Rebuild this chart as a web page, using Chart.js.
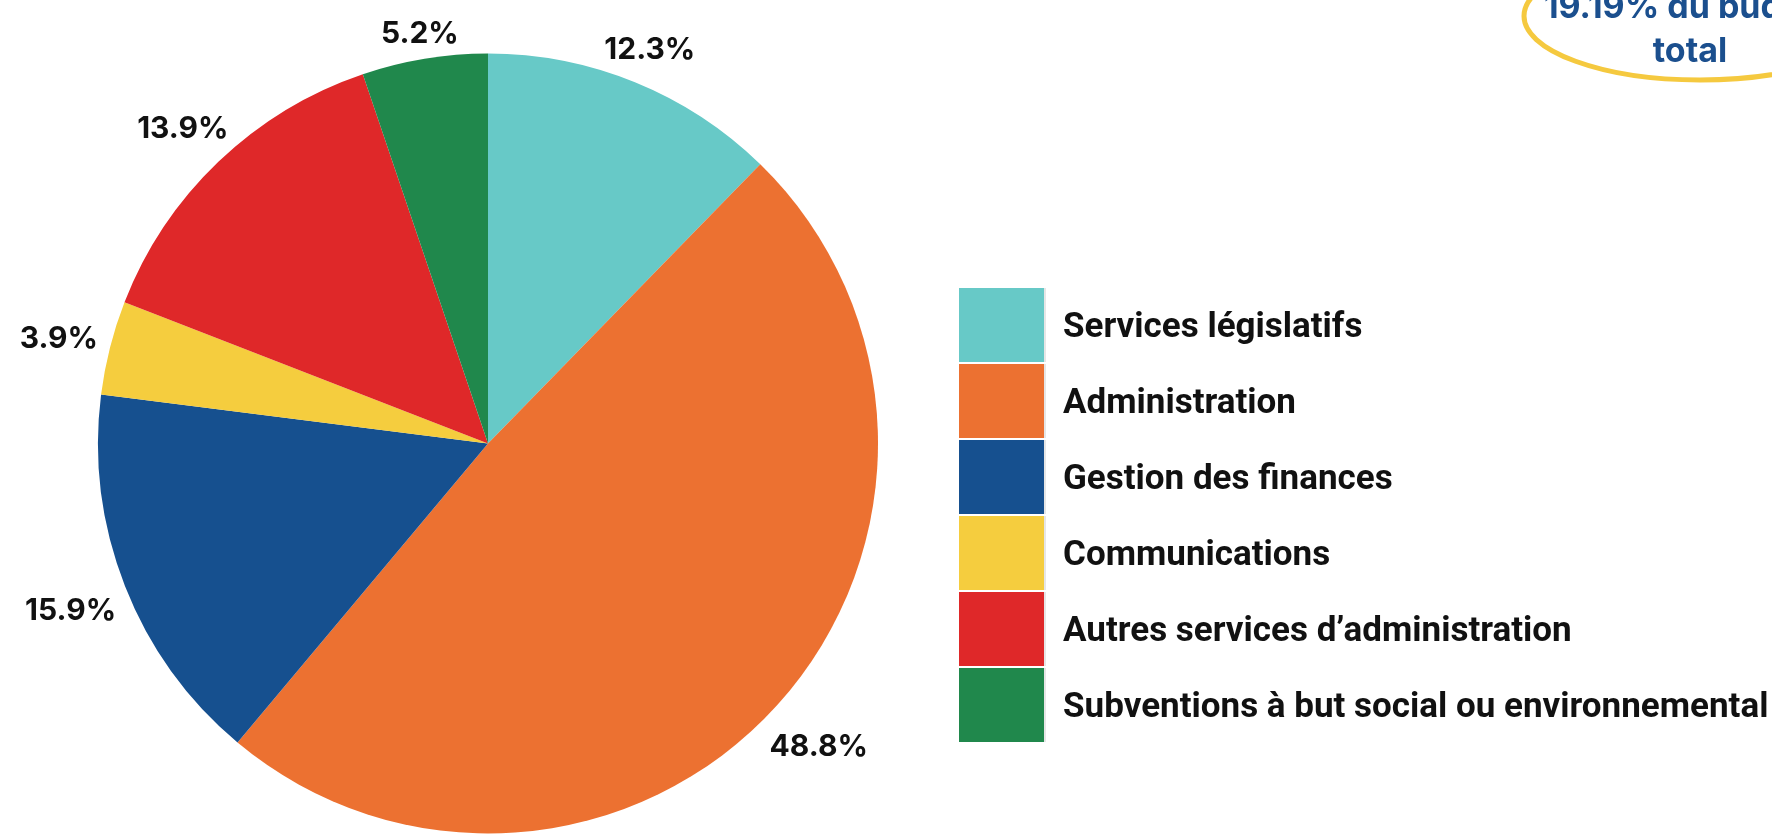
<!DOCTYPE html>
<html lang="fr">
<head>
<meta charset="utf-8">
<title>Répartition du budget</title>
<script src="https://cdn.jsdelivr.net/npm/chart.js@4.4.1/dist/chart.umd.min.js"></script>
<style>
    html, body { margin: 0; padding: 0; background: #fff; }
    body { width: 1772px; height: 834px; position: relative; overflow: hidden; font-family: Roboto, "Noto Sans", sans-serif; }
    #pie-wrap { position: absolute; left: 0; top: 0; width: 976px; height: 834px; }
    #legend { position: absolute; left: 959px; top: 288px; }
    .leg-row { display: flex; align-items: center; height: 76px; }
    .leg-box { width: 87px; height: 74px; margin-bottom: 2px; border-right: 2px solid #e6e6e6; box-sizing: border-box; }
    .leg-text { margin-left: 17px; font-size: 35px; font-weight: 700; color: #111; white-space: nowrap; margin-bottom: 2px; }
    #bubble { position: absolute; left: 0; top: 0; }
</style>
</head>
<body>
<div id="pie-wrap"><canvas id="budgetPie"></canvas></div>
<div id="legend"></div>
<svg id="bubble" width="1772" height="834">
    <ellipse cx="1700" cy="16" rx="176" ry="64" fill="none" stroke="#f5c93f" stroke-width="5" />
    <text x="1690" y="18" text-anchor="middle" font-family="Inter, sans-serif" font-weight="700" font-size="34" fill="#1b4f8e">19.19% du budget</text>
    <text x="1690" y="62" text-anchor="middle" font-family="Inter, sans-serif" font-weight="700" font-size="34" fill="#1b4f8e">total</text>
</svg>

<script>
// categories et parts (%)
const categories = [
    'Services législatifs',
    'Administration',
    'Gestion des finances',
    'Communications',
    'Autres services d’administration',
    'Subventions à but social ou environnemental'
];
const parts = [12.3, 48.8, 15.9, 3.9, 13.9, 5.2];
const couleurs = ['#67c9c7', '#ec7131', '#16508f', '#f5cd3e', '#df2829', '#20884c'];

// étiquettes % à l'extérieur de chaque part
const etiquettesPct = {
    id: 'etiquettesPct',
    afterDatasetsDraw(chart) {
        const ctx = chart.ctx;
        const meta = chart.getDatasetMeta(0);
        ctx.save();
        ctx.font = '700 30px Inter, "Noto Sans", sans-serif';
        ctx.fillStyle = '#111';
        ctx.textAlign = 'center';
        ctx.textBaseline = 'middle';
        meta.data.forEach((arc, i) => {
            const p = arc.getProps(['x', 'y', 'startAngle', 'endAngle', 'outerRadius'], true);
            const mid = (p.startAngle + p.endAngle) / 2;
            const txt = parts[i].toFixed(1) + '%';
            const w = ctx.measureText(txt).width;
            const cos = Math.cos(mid), sin = Math.sin(mid);
            const r = p.outerRadius + 12 + Math.abs(cos) * w / 2 + Math.abs(sin) * 11;
            ctx.fillText(txt, p.x + cos * r, p.y + sin * r + 4);
        });
        ctx.restore();
    }
};

const chart = new Chart(document.getElementById('budgetPie'), {
    type: 'pie',
    data: {
        labels: categories,
        datasets: [{
            data: parts,
            backgroundColor: couleurs,
            borderWidth: 0
        }]
    },
    options: {
        responsive: true,
        maintainAspectRatio: false,
        animation: false,
        layout: { padding: { top: 53, left: 98, right: 98, bottom: 0 } },
        plugins: { legend: { display: false }, tooltip: { enabled: false } }
    },
    plugins: [etiquettesPct]
});

// légende HTML construite à partir des données du graphique
const legend = document.getElementById('legend');
chart.data.labels.forEach((lab, i) => {
    legend.insertAdjacentHTML('beforeend',
        `<div class="leg-row"><div class="leg-box" style="background:${couleurs[i]}"></div><div class="leg-text">${lab}</div></div>`);
});
</script>
</body>
</html>
